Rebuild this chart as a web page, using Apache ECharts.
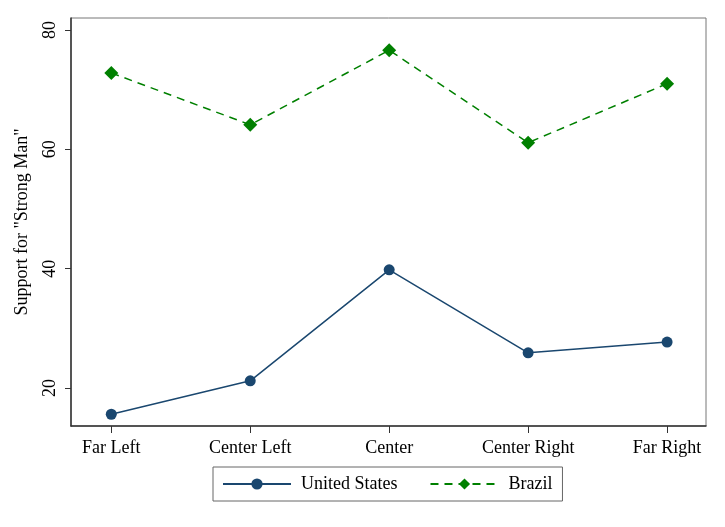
<!DOCTYPE html>
<html>
<head>
<meta charset="utf-8">
<script src="https://cdn.jsdelivr.net/npm/echarts@6/dist/echarts.min.js"></script>
<style>
html,body{margin:0;padding:0;background:#fff;}
#chart{width:725px;height:527px;}
</style>
</head>
<body>
<div id="chart"></div>
<script>
const categories = ["Far Left", "Center Left", "Center", "Center Right", "Far Right"];
const unitedStates = [15.6, 21.2, 39.8, 25.9, 27.7];
const brazil = [72.8, 64.1, 76.6, 61.1, 71.0];
const yTicks = [20, 40, 60, 80];
const seriesNames = ["United States", "Brazil"];

const catIdx = categories.map((c, i) => i);
const toPairs = arr => arr.map((v, i) => [i, v]);
const font = "'Liberation Serif', 'DejaVu Serif', serif";

const chart = echarts.init(document.getElementById('chart'), null, {renderer: 'canvas'});
chart.setOption({
  backgroundColor: '#fff',
  animation: false,
  textStyle: {fontFamily: font},
  grid: {left: 71, top: 18, right: 19, bottom: 101, show: true, borderColor: '#777', borderWidth: 1, backgroundColor: 'transparent'},
  xAxis: {
    type: 'value', min: -0.29, max: 4.28,
    splitLine: {show: false},
    axisLine: {show: true, onZero: false, lineStyle: {color: '#333', width: 1.5}},
    axisTick: {show: true, length: 7, customValues: catIdx, lineStyle: {color: '#333'}},
    axisLabel: {customValues: catIdx, margin: 13, color: '#000', fontSize: 18, fontFamily: font,
      formatter: v => categories[Math.round(v)] || ''}
  },
  yAxis: {
    type: 'value', min: 13.63, max: 82.0,
    name: 'Support for "Strong Man"', nameLocation: 'middle', nameGap: 40,
    nameTextStyle: {color: '#000', fontSize: 18, fontFamily: font},
    splitLine: {show: false},
    axisLine: {show: true, onZero: false, lineStyle: {color: '#333', width: 1.5}},
    axisTick: {show: true, length: 6, customValues: yTicks, lineStyle: {color: '#333'}},
    axisLabel: {customValues: yTicks, rotate: 90, margin: 12, color: '#000', fontSize: 18, fontFamily: font}
  },
  legend: {
    left: 213, top: 467,
    padding: [8, 10, 8, 9],
    borderColor: '#666', borderWidth: 1,
    itemWidth: 68, itemHeight: 14, itemGap: 32,
    textStyle: {color: '#000', fontSize: 18, fontFamily: font, padding: [4, 0, 0, 5]},
    data: seriesNames
  },
  series: [
    {
      name: seriesNames[0], type: 'line', data: toPairs(unitedStates),
      symbol: 'circle', symbolSize: 11,
      lineStyle: {color: '#1a476f', width: 1.5},
      itemStyle: {color: '#1a476f'}
    },
    {
      name: seriesNames[1], type: 'line', data: toPairs(brazil),
      symbol: 'diamond', symbolSize: 14,
      lineStyle: {color: '#008000', width: 1.5, type: [8, 6]},
      itemStyle: {color: '#008000'}
    }
  ]
});
</script>
</body>
</html>
